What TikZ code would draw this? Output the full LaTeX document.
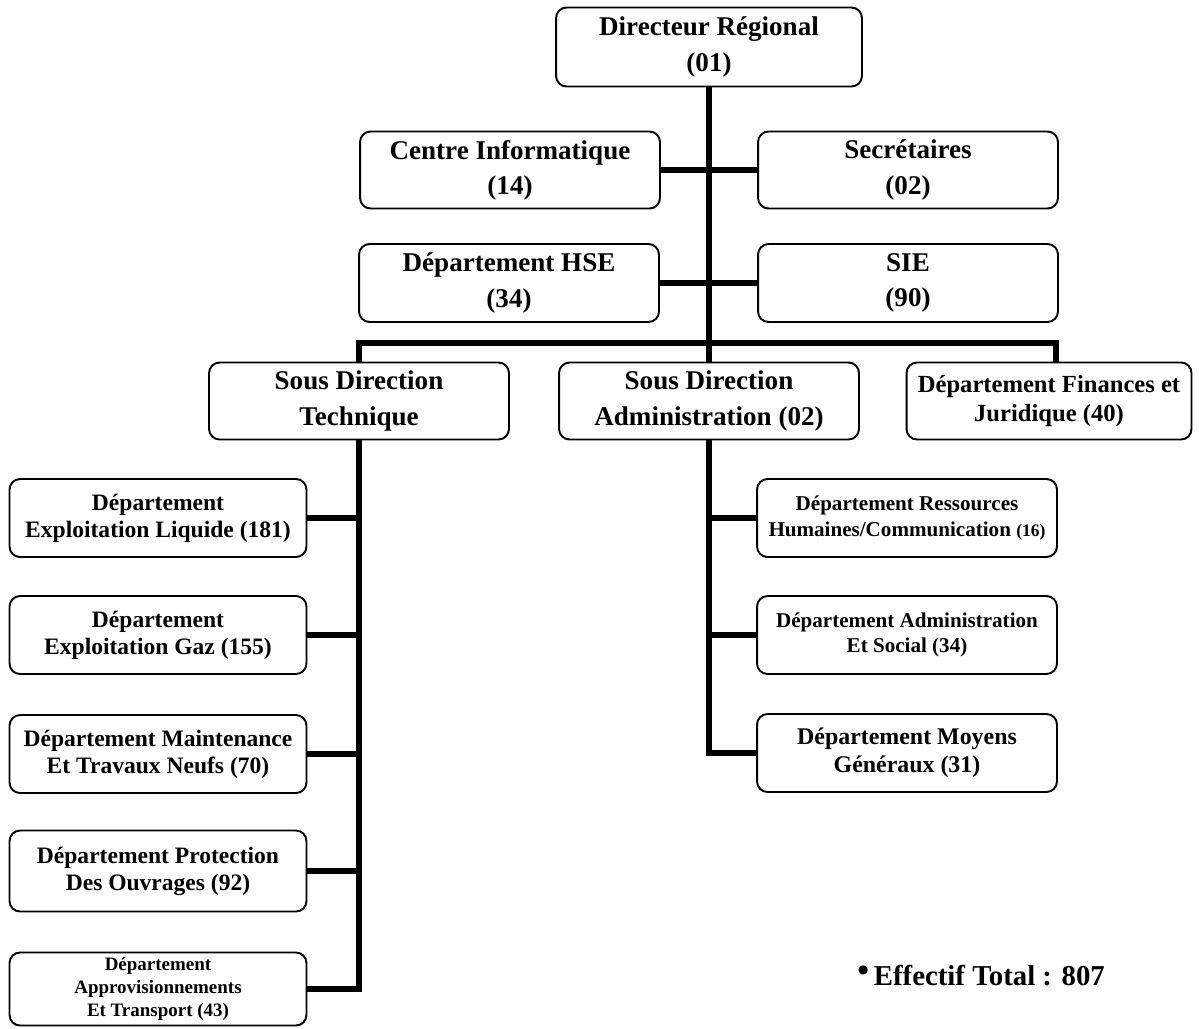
\documentclass[tikz,border=0pt]{standalone}
\usepackage{fontspec}
\setmainfont{Liberation Serif}

\begin{document}
\begin{tikzpicture}[
  x=0.02cm, y=-0.02cm,
  box/.style={draw, line width=1.1pt, rounded corners=6pt, fill=white, align=center, inner sep=2pt},
  big/.style={box, minimum width=6cm, minimum height=1.54cm, font=\fontsize{15.4}{20}\selectfont\bfseries},
  dept/.style={box, minimum width=5.94cm, minimum height=1.56cm, font=\fontsize{13.4}{15.4}\selectfont\bfseries},
  small/.style={dept, minimum width=6cm, font=\fontsize{12}{14.5}\selectfont\bfseries},
  link/.style={line width=3.7pt},
]
\useasboundingbox (0,0) rectangle (1199,1028);
% nodes
\node[big, minimum width=6.12cm, minimum height=1.58cm] (dir) at (709,47) {Directeur Régional\\(01)};
\node[big] (info) at (510,170) {Centre Informatique\\(14)};
\node[big] (secr) at (908,170) {Secrétaires\\(02)};
\node[big, minimum height=1.56cm] (hse) at (509,283) {Département HSE\\(34)};
\node[big, minimum height=1.56cm] (sie) at (908,283) {SIE\\(90)};
\node[big] (sdt) at (359,401) {Sous Direction\\Technique};
\node[big] (sda) at (709,401) {Sous Direction\\Administration (02)};
\node[big, minimum width=5.7cm, font=\fontsize{14}{17}\selectfont\bfseries] (fin) at (1049,401) {Département Finances et\\Juridique (40)};
% technique side
\node[dept] (liq) at (158,518) {Département\\Exploitation Liquide (181)};
\node[dept] (gaz) at (158,635) {Département\\Exploitation Gaz (155)};
\node[dept] (maint) at (158,754) {Département Maintenance\\Et Travaux Neufs (70)};
\node[dept, minimum height=1.62cm] (prot) at (158,871) {Département Protection\\Des Ouvrages (92)};
\node[dept, minimum height=1.46cm, font=\fontsize{10.8}{13}\selectfont\bfseries] (appro) at (158,989) {Département\\Approvisionnements\\Et Transport (43)};
% administration side
\node[small] (rh) at (907,518) {Département Ressources\\Humaines/Communication {\fontsize{10}{12}\selectfont(16)}};
\node[small] (soc) at (907,635) {Département Administration\\Et Social (34)};
\node[small, font=\fontsize{13.6}{16}\selectfont\bfseries] (moy) at (907,753) {Département Moyens\\Généraux (31)};
% total
\node[anchor=base west, inner sep=0pt, font=\fontsize{16.4}{19}\selectfont\bfseries] (total) at (857,985)
  {\raisebox{0.12em}{\fontsize{19}{19}\selectfont •}\,Effectif Total : 807};
% edges
\coordinate (bus) at (709,343);
\draw[link] (dir) -- (sda);
\draw[link] (info) -- (secr);
\draw[link] (hse) -- (sie);
\draw[link] (sdt.north) |- (bus) -| ([xshift=0.14cm]fin.north);
\draw[link] (sdt.south) |- (appro.east);
\foreach \n in {liq,gaz,maint,prot}
  \draw[link] (\n.east) -- (\n.east -| sdt.south);
\draw[link] (sda.south) |- (moy.west);
\foreach \n in {rh,soc}
  \draw[link] (\n.west) -- (\n.west -| sda.south);
\end{tikzpicture}
\end{document}
